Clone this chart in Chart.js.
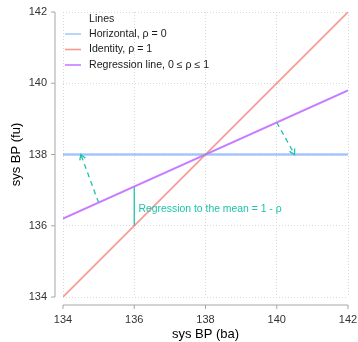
<!DOCTYPE html>
<html><head><meta charset="utf-8">
<script src="https://cdn.jsdelivr.net/npm/chart.js@4/dist/chart.umd.min.js"></script>
<style>html,body{margin:0;padding:0;background:#fff}#wrap{width:358px;height:342px}</style>
</head><body><div id="wrap"><canvas id="c" width="358" height="342"></canvas></div>
<script>
const xEnds = [134, 142];
const horizontalY = [138, 138];
const identityY = [134, 142];
const regressionY = [136.2, 139.8];
const residualX = [136, 136];
const residualY = [136, 137.1];
const arrowLeftX = [135, 134.5];
const arrowLeftY = [136.65, 138];
const arrowRightX = [140, 140.5];
const arrowRightY = [138.9, 138];
const tickValues = [134, 136, 138, 140, 142];
const labels = ["Horizontal, \u03c1 = 0", "Identity, \u03c1 = 1", "Regression line, 0 \u2264 \u03c1 \u2264 1"];
const legendTitle = "Lines";
const noteText = "Regression to the mean = 1 - \u03c1";
const notePos = [136.12, 136.48];

const FONT = "'Liberation Sans', Arial, sans-serif";
const teal = "#1fc3aa";
const pts = (xs, ys) => xs.map((x, i) => ({x, y: ys[i]}));

const datasets = [
  {label: labels[0], data: pts(xEnds, horizontalY), borderColor: "rgba(97,156,255,0.55)", borderWidth: 2.6, legend: true},
  {label: labels[1], data: pts(xEnds, identityY), borderColor: "rgba(248,118,109,0.75)", borderWidth: 1.6, legend: true},
  {label: labels[2], data: pts(xEnds, regressionY), borderColor: "#c77cff", borderWidth: 2, legend: true},
  {label: "residual", data: pts(residualX, residualY), borderColor: teal, borderWidth: 1.3},
  {label: "arrowL", data: pts(arrowLeftX, arrowLeftY), borderColor: teal, borderWidth: 1.3, borderDash: [5, 4], arrow: true},
  {label: "arrowR", data: pts(arrowRightX, arrowRightY), borderColor: teal, borderWidth: 1.3, borderDash: [5, 4], arrow: true}
].map(d => Object.assign({showLine: true, pointRadius: 0, fill: false, tension: 0}, d));

const extras = {
  id: 'extras',
  afterDatasetsDraw(chart) {
    const {ctx, chartArea: a, scales: {x, y}} = chart;
    ctx.save();
    chart.data.datasets.forEach(ds => {
      if (!ds.arrow) return;
      const p0 = ds.data[ds.data.length - 2], p1 = ds.data[ds.data.length - 1];
      const x0 = x.getPixelForValue(p0.x), y0 = y.getPixelForValue(p0.y);
      const x1 = x.getPixelForValue(p1.x), y1 = y.getPixelForValue(p1.y);
      const ang = Math.atan2(y1 - y0, x1 - x0), L = 6, h = Math.PI / 6;
      ctx.strokeStyle = ds.borderColor; ctx.lineWidth = ds.borderWidth; ctx.setLineDash([]);
      ctx.beginPath();
      ctx.moveTo(x1 - L * Math.cos(ang - h), y1 - L * Math.sin(ang - h));
      ctx.lineTo(x1, y1);
      ctx.lineTo(x1 - L * Math.cos(ang + h), y1 - L * Math.sin(ang + h));
      ctx.stroke();
    });
    ctx.fillStyle = teal; ctx.font = "10.4px " + FONT; ctx.textAlign = "left"; ctx.textBaseline = "middle";
    ctx.fillText(noteText, x.getPixelForValue(notePos[0]), y.getPixelForValue(notePos[1]));
    ctx.strokeStyle = "#a6a6a6"; ctx.lineWidth = 1;
    const ax = a.left - 8, by = a.bottom + 8;
    ctx.beginPath();
    ctx.moveTo(ax, y.getPixelForValue(tickValues[0])); ctx.lineTo(ax, y.getPixelForValue(tickValues[tickValues.length - 1]));
    tickValues.forEach(v => { const py = y.getPixelForValue(v); ctx.moveTo(ax - 4, py); ctx.lineTo(ax, py); });
    ctx.moveTo(x.getPixelForValue(tickValues[0]), by); ctx.lineTo(x.getPixelForValue(tickValues[tickValues.length - 1]), by);
    tickValues.forEach(v => { const px = x.getPixelForValue(v); ctx.moveTo(px, by); ctx.lineTo(px, by + 4); });
    ctx.stroke();
    const lx = 65, tx = 89;
    ctx.fillStyle = "#1a1a1a"; ctx.font = "10.6px " + FONT; ctx.textBaseline = "middle";
    ctx.fillText(legendTitle, tx, 19);
    chart.data.datasets.filter(d => d.legend).forEach((d, i) => {
      const ly = 34 + i * 15.5;
      ctx.strokeStyle = d.borderColor; ctx.lineWidth = 1.6;
      ctx.beginPath(); ctx.moveTo(lx, ly); ctx.lineTo(lx + 16, ly); ctx.stroke();
      ctx.fillStyle = "#1a1a1a";
      ctx.fillText(d.label, tx, ly);
    });
    ctx.restore();
  }
};

const gridOpts = {color: "#d9d9d9", lineWidth: 1, drawTicks: false};
new Chart(document.getElementById('c'), {
  type: 'scatter',
  data: {datasets},
  options: {
    responsive: false, animation: false,
    layout: {padding: 0},
    plugins: {legend: {display: false}, tooltip: {enabled: false}},
    scales: {
      x: {
        type: 'linear', min: 134, max: 142,
        afterBuildTicks: s => { s.ticks = tickValues.map(v => ({value: v})); },
        afterFit: s => { s.height = 45; s.paddingLeft = 0; s.paddingRight = 10; },
        grid: gridOpts, border: {display: false, dash: [1, 2]},
        ticks: {padding: 16, color: "#333", font: {family: FONT, size: 11}, maxRotation: 0},
        title: {display: true, text: "sys BP (ba)", color: "#000", font: {family: FONT, size: 13}, padding: {top: 0, bottom: 0}}
      },
      y: {
        type: 'linear', min: 134, max: 142,
        afterBuildTicks: s => { s.ticks = tickValues.map(v => ({value: v})); },
        afterFit: s => { s.width = 63; s.paddingTop = 12; s.paddingBottom = 0; },
        grid: gridOpts, border: {display: false, dash: [1, 2]},
        ticks: {padding: 16, color: "#333", font: {family: FONT, size: 11}},
        title: {display: true, text: "sys BP (fu)", color: "#000", font: {family: FONT, size: 13}, padding: {top: 9, bottom: 7}}
      }
    }
  },
  plugins: [extras]
});
</script></body></html>
